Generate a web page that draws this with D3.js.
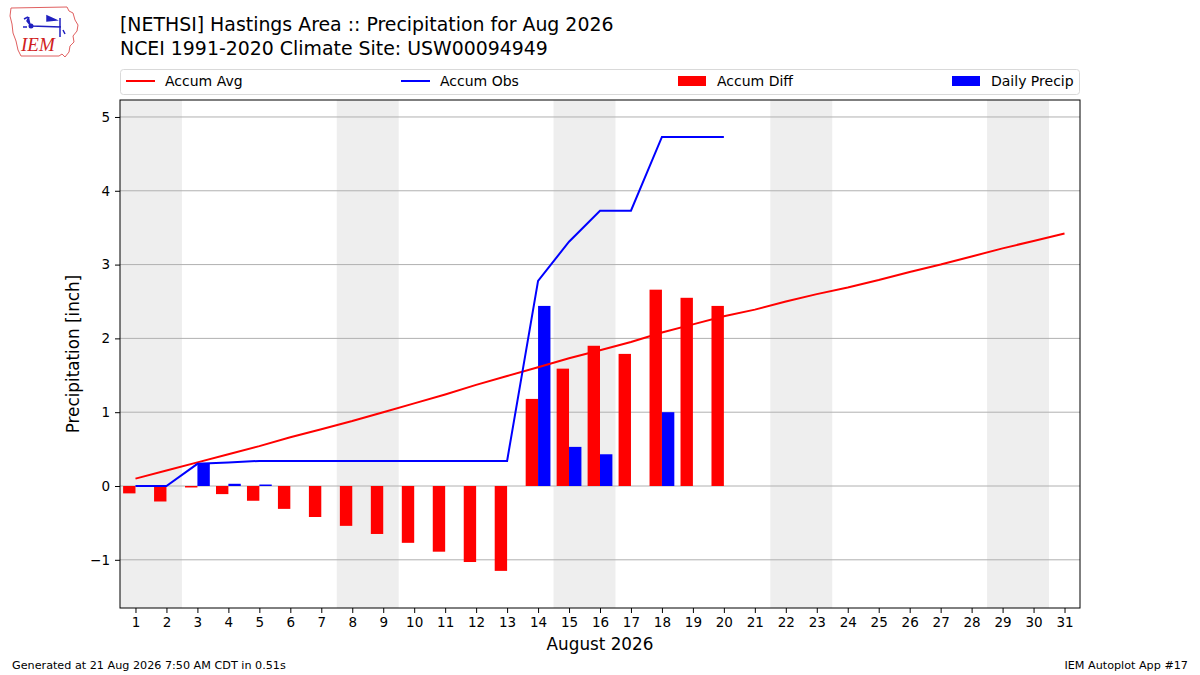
<!DOCTYPE html>
<html>
<head>
<meta charset="utf-8">
<script src="https://cdn.jsdelivr.net/npm/d3@7"></script>
<style>
  body { margin: 0; background: #fff; }
  svg { font-family: "DejaVu Sans", sans-serif; }
</style>
</head>
<body>
<svg id="chart" width="1200" height="675"></svg>
<script>
// Data (inches)
const days = d3.range(1, 32)
const accumAvg = [0.10, 0.21, 0.32, 0.43, 0.54, 0.66, 0.77, 0.88, 1.00, 1.12,
  1.24, 1.37, 1.49, 1.61, 1.73, 1.84, 1.95, 2.08, 2.19, 2.30,
  2.39, 2.50, 2.60, 2.69, 2.79, 2.90, 3.00, 3.11, 3.22, 3.32, 3.42]
const accumObs = [0.00, 0.00, 0.30, 0.32, 0.34, 0.34, 0.34, 0.34, 0.34, 0.34,
  0.34, 0.34, 0.34, 2.78, 3.31, 3.73, 3.73, 4.73, 4.73, 4.73]
const accumDiff = [-0.10, -0.21, -0.02, -0.11, -0.20, -0.31, -0.42, -0.54, -0.65, -0.77,
  -0.89, -1.03, -1.15, 1.18, 1.59, 1.90, 1.79, 2.66, 2.55, 2.44]
const dailyPrecip = [0.00, 0.00, 0.30, 0.03, 0.02, 0.00, 0.00, 0.00, 0.00, 0.00,
  0.00, 0.00, 0.00, 2.44, 0.53, 0.43, 0.00, 1.00, 0.00, 0.00]
const weekendStarts = [1, 8, 15, 22, 29]
const yTicks = [-1, 0, 1, 2, 3, 4, 5]

const svg = d3.select('#chart')
const margin = {left: 120, right: 120, top: 100, bottom: 67}
const width = 1200, height = 675

const x = d3.scaleLinear().domain([0.5, 31.5]).range([margin.left, width - margin.right])
const y = d3.scaleLinear().domain([-1.653, 5.23]).range([height - margin.bottom, margin.top])

const plot = svg.append('g')

// weekend shading
plot.selectAll('rect.weekend').data(weekendStarts)
  .join('rect')
  .attr('class', 'weekend')
  .attr('x', d => x(d - 0.5))
  .attr('width', d => x(d + 1.5) - x(d - 0.5))
  .attr('y', y.range()[1])
  .attr('height', y.range()[0] - y.range()[1])
  .attr('fill', '#eeeeee')

// horizontal grid
plot.selectAll('line.grid').data(yTicks)
  .join('line')
  .attr('class', 'grid')
  .attr('x1', x.range()[0]).attr('x2', x.range()[1])
  .attr('y1', d => y(d)).attr('y2', d => y(d))
  .attr('stroke', '#b0b0b0')
  .attr('stroke-width', 1)

const barW = 0.4

// accum diff bars (left of the day)
plot.selectAll('rect.diff').data(accumDiff)
  .join('rect')
  .attr('class', 'diff')
  .attr('x', (d, i) => x(days[i] - barW))
  .attr('width', x(barW) - x(0))
  .attr('y', d => y(Math.max(0, d)))
  .attr('height', d => Math.abs(y(d) - y(0)))
  .attr('fill', '#ff0000')

// daily precip bars (right of the day)
plot.selectAll('rect.daily').data(dailyPrecip)
  .join('rect')
  .attr('class', 'daily')
  .attr('x', (d, i) => x(days[i]))
  .attr('width', x(barW) - x(0))
  .attr('y', d => y(d))
  .attr('height', d => y(0) - y(d))
  .attr('fill', '#0000ff')

const line = d3.line().x((d, i) => x(days[i])).y(d => y(d))

plot.append('path').datum(accumAvg)
  .attr('d', line)
  .attr('fill', 'none')
  .attr('stroke', '#ff0000')
  .attr('stroke-width', 2)

plot.append('path').datum(accumObs)
  .attr('d', line)
  .attr('fill', 'none')
  .attr('stroke', '#0000ff')
  .attr('stroke-width', 2)

// frame
svg.append('rect')
  .attr('x', x.range()[0]).attr('y', y.range()[1])
  .attr('width', x.range()[1] - x.range()[0])
  .attr('height', y.range()[0] - y.range()[1])
  .attr('fill', 'none').attr('stroke', '#000').attr('stroke-width', 1)

// axes
const xAxis = svg.append('g')
  .attr('transform', `translate(0,${y.range()[0]})`)
  .call(d3.axisBottom(x).tickValues(days).tickSize(5).tickPadding(4).tickFormat(d3.format('d')))
const yAxis = svg.append('g')
  .attr('transform', `translate(${x.range()[0]},0)`)
  .call(d3.axisLeft(y).tickValues(yTicks).tickSize(5).tickPadding(5)
    .tickFormat(d => d < 0 ? '\u2212' + Math.abs(d) : d))

;[xAxis, yAxis].forEach(a => {
  a.select('.domain').remove()
  a.selectAll('text').attr('font-size', 13.5).attr('fill', '#000')
    .attr('font-family', '"DejaVu Sans", sans-serif')
  a.selectAll('line').attr('stroke', '#000')
})

svg.append('text')
  .attr('x', (x.range()[0] + x.range()[1]) / 2).attr('y', 650)
  .attr('text-anchor', 'middle').attr('font-size', 16.8)
  .text('August 2026')

svg.append('text')
  .attr('transform', `translate(79,${(y.range()[0] + y.range()[1]) / 2}) rotate(-90)`)
  .attr('text-anchor', 'middle').attr('font-size', 16.8)
  .text('Precipitation [inch]')

// titles
svg.append('text').attr('x', 120).attr('y', 31).attr('font-size', 18.9)
  .text('[NETHSI] Hastings Area :: Precipitation for Aug 2026')
svg.append('text').attr('x', 120).attr('y', 55).attr('font-size', 18.9)
  .text('NCEI 1991-2020 Climate Site: USW00094949')

// legend
const legend = svg.append('g')
legend.append('rect')
  .attr('x', 120.5).attr('y', 69.5).attr('width', 959).attr('height', 25)
  .attr('rx', 3).attr('fill', '#fff').attr('stroke', '#d9d9d9')

const legendItems = [
  {label: 'Accum Avg', color: '#ff0000', type: 'line', x: 126},
  {label: 'Accum Obs', color: '#0000ff', type: 'line', x: 401},
  {label: 'Accum Diff', color: '#ff0000', type: 'patch', x: 678},
  {label: 'Daily Precip', color: '#0000ff', type: 'patch', x: 952}
]
legendItems.forEach(item => {
  if (item.type === 'line') {
    legend.append('line')
      .attr('x1', item.x).attr('x2', item.x + 29)
      .attr('y1', 81).attr('y2', 81)
      .attr('stroke', item.color).attr('stroke-width', 2)
  } else {
    legend.append('rect')
      .attr('x', item.x).attr('y', 76).attr('width', 28).attr('height', 10)
      .attr('fill', item.color)
  }
  legend.append('text')
    .attr('x', item.x + 39).attr('y', 86).attr('font-size', 14)
    .text(item.label)
})

// footer
svg.append('text').attr('x', 12).attr('y', 669).attr('font-size', 11.2)
  .text('Generated at 21 Aug 2026 7:50 AM CDT in 0.51s')
svg.append('text').attr('x', 1188).attr('y', 669).attr('font-size', 11.2)
  .attr('text-anchor', 'end')
  .text('IEM Autoplot App #17')

// rough IEM logo
const logo = svg.append('g').attr('transform', 'translate(9,6)')
logo.append('path')
  .attr('d', 'M2,2 L58,1 L60,5 L64,7 L66,14 L69,19 L68,25 L64,30 L65,36 L61,40 L60,46 L56,51 L53,48 L50,50 L12,50 L9,44 L7,35 L4,27 L3,18 L1,10 Z')
  .attr('fill', '#fff').attr('stroke', '#e06060').attr('stroke-width', 1)
logo.append('path')
  .attr('d', 'M22,20 L52,21 M51,12 L51,31 M38,10 L47,14 L38,15 Z M22,20 L18,15 L20,11 M15,13 L19,11 M54,24 L56,28')
  .attr('fill', '#2020c0').attr('stroke', '#2020c0').attr('stroke-width', 1.5)
logo.append('circle').attr('cx', 22).attr('cy', 20).attr('r', 2.5).attr('fill', '#2020c0')
logo.append('circle').attr('cx', 15).attr('cy', 21).attr('r', 1).attr('fill', '#2020c0')
logo.append('circle').attr('cx', 17).attr('cy', 21).attr('r', 1).attr('fill', '#2020c0')
logo.append('text').attr('x', 12).attr('y', 45)
  .attr('font-family', '"Liberation Serif", serif').attr('font-style', 'italic')
  .attr('font-size', 19).attr('fill', '#d02020')
  .text('IEM')
</script>
</body>
</html>
